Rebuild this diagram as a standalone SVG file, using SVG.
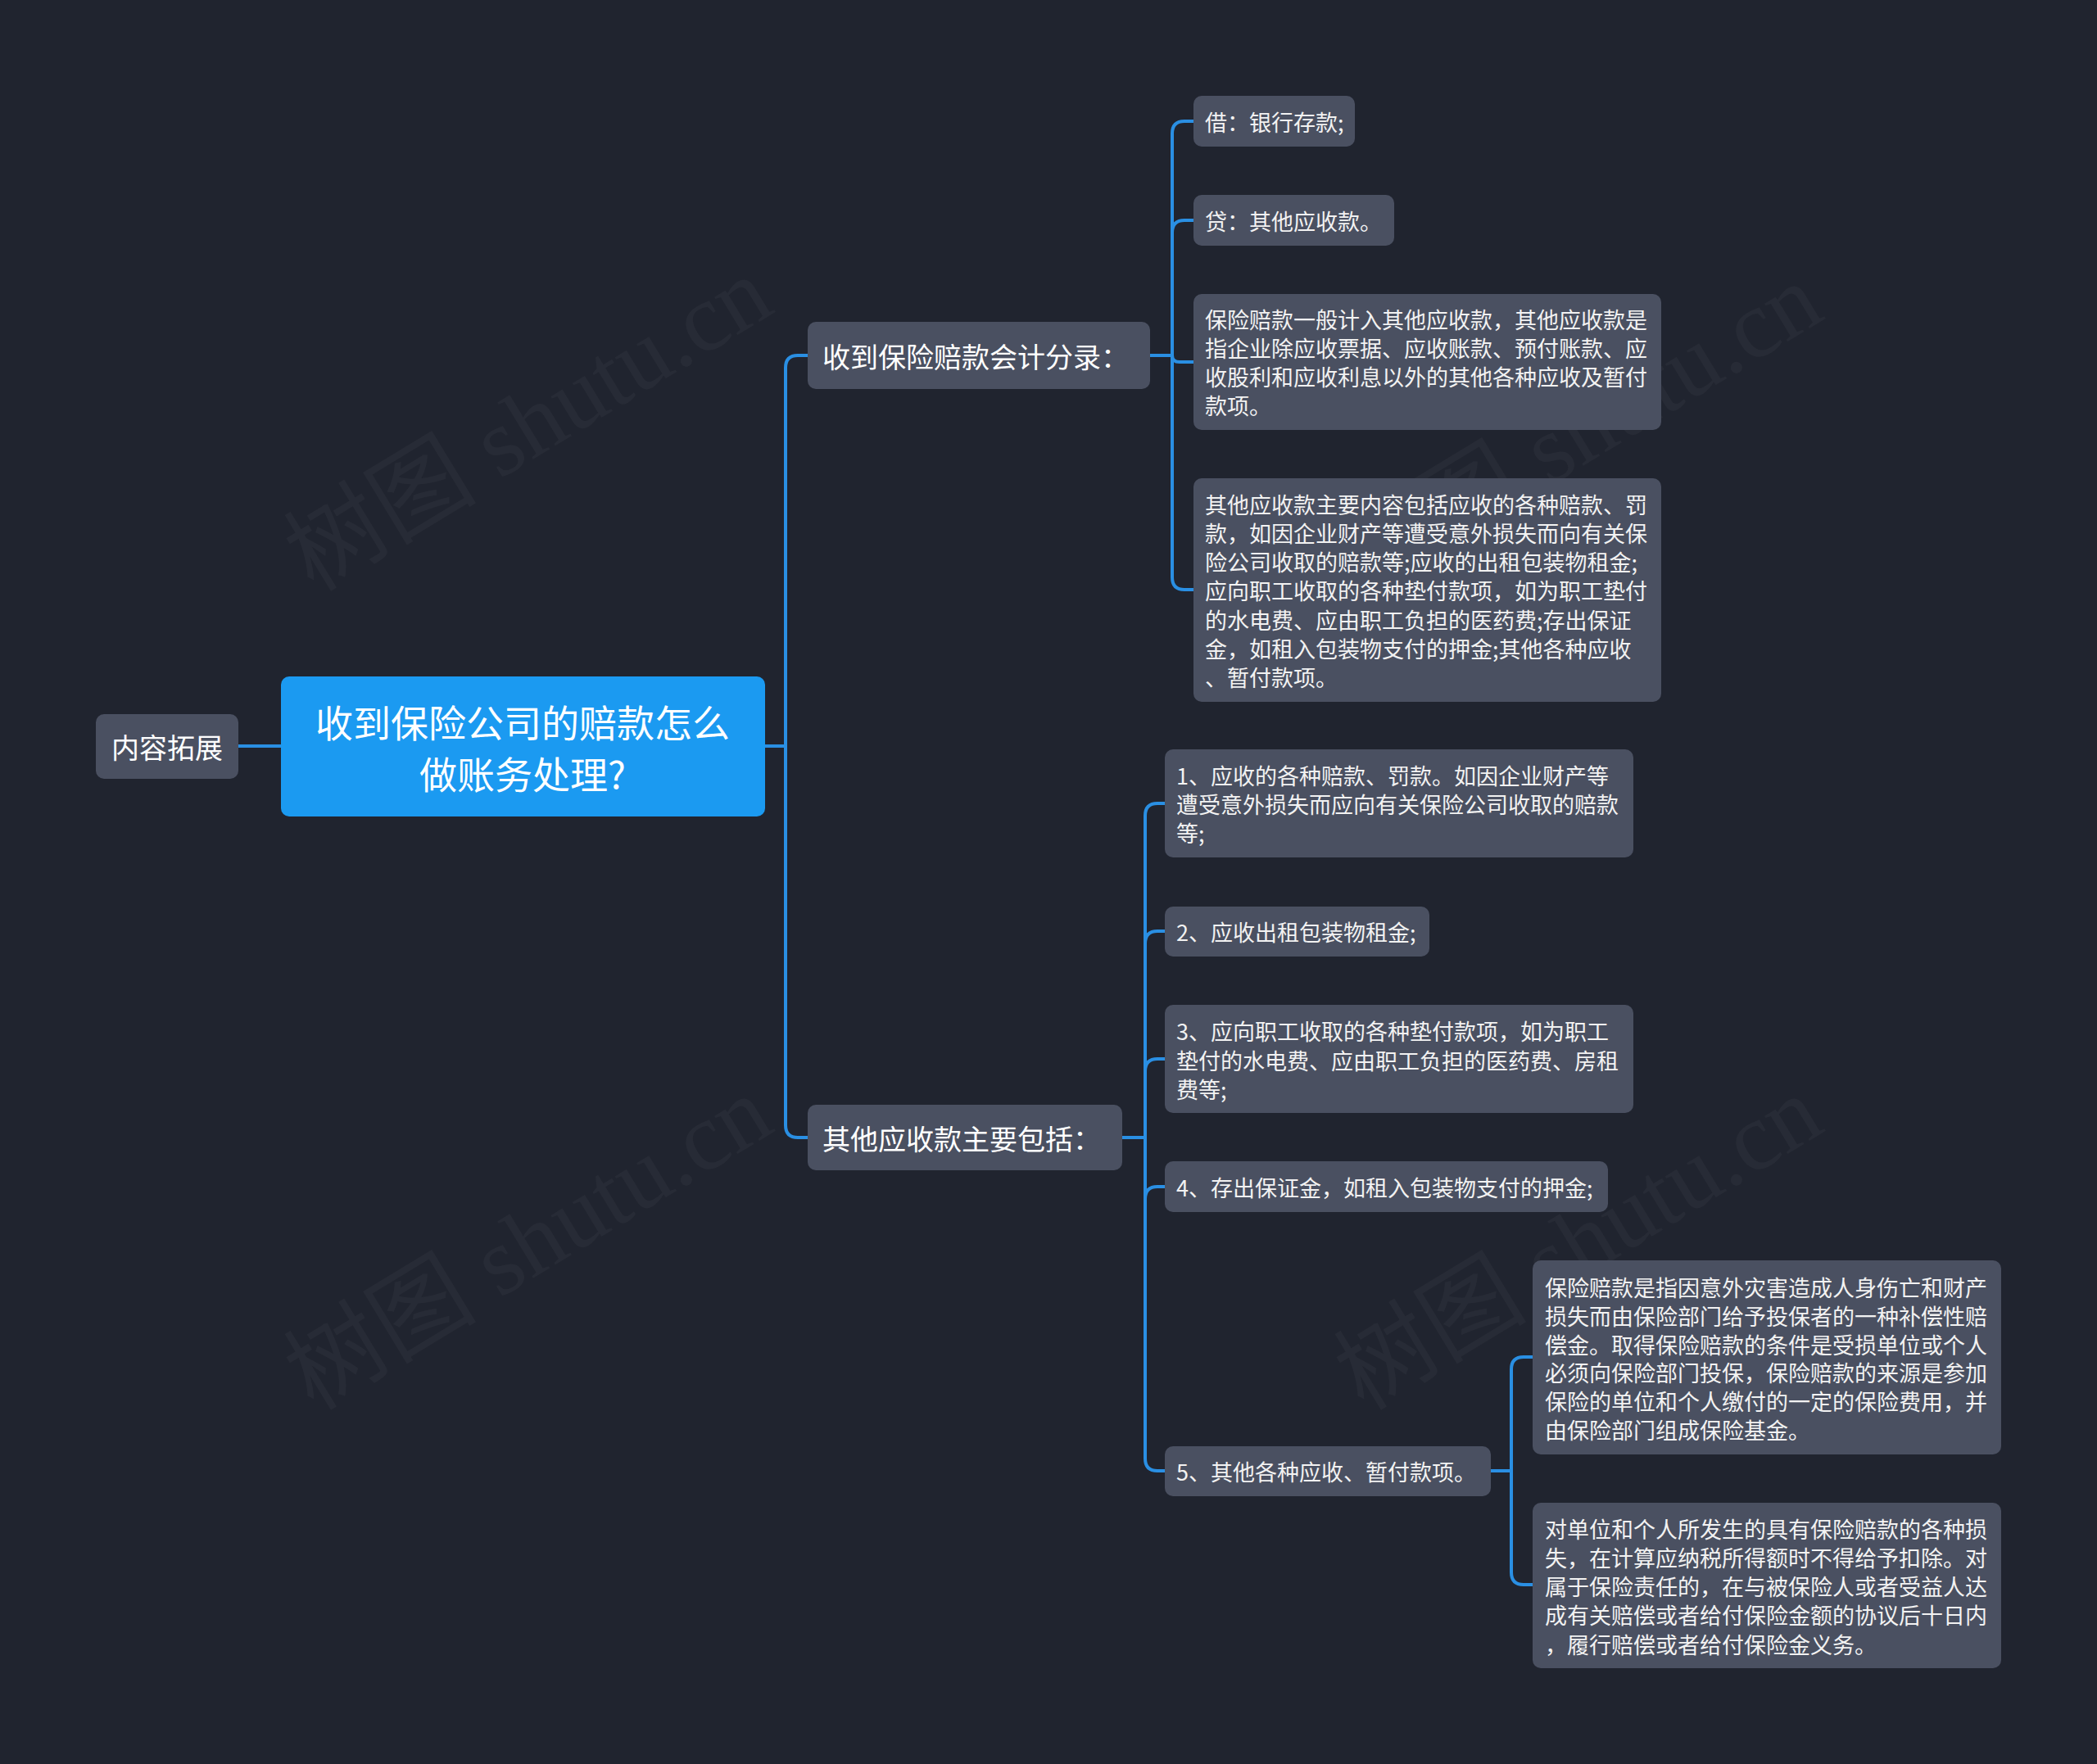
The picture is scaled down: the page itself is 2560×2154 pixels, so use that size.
<svg xmlns="http://www.w3.org/2000/svg" width="2560" height="2154" viewBox="0 0 2560 2154">
<style>
.bg{fill:#20242f}
.wm{font-family:"Liberation Serif","Noto Sans CJK SC",serif;font-size:118px;fill:#ffffff;fill-opacity:0.035}
.node{fill:#4a5061}
.root{fill:#1b9af1}
.t{font-family:"Noto Sans CJK SC","Noto Sans",sans-serif;fill:#ffffff;dominant-baseline:central}
.t34{font-size:34px}
.t46{font-size:46px}
.t27{font-size:27px;fill:#f2f2f2}
.edge{fill:none;stroke:#2a8fe3;stroke-width:4;stroke-linecap:round}
</style>
<rect class="bg" x="0" y="0" width="2560" height="2154"/>
<g id="watermarks">
<text class="wm" x="645" y="518" text-anchor="middle" dominant-baseline="central" transform="rotate(-31.3 645 518)">树图 shutu.cn</text>
<text class="wm" x="1927" y="526" text-anchor="middle" dominant-baseline="central" transform="rotate(-31.3 1927 526)">树图 shutu.cn</text>
<text class="wm" x="645" y="1518" text-anchor="middle" dominant-baseline="central" transform="rotate(-31.3 645 1518)">树图 shutu.cn</text>
<text class="wm" x="1927" y="1518" text-anchor="middle" dominant-baseline="central" transform="rotate(-31.3 1927 1518)">树图 shutu.cn</text>
</g>
<g id="connectors">
<path class="edge" d="M291 911 H343"/>
<path class="edge" d="M934 911 H959"/>
<path class="edge" d="M959 911 V449 Q959 434 974 434 H986"/>
<path class="edge" d="M959 911 V1374 Q959 1389 974 1389 H986"/>
<path class="edge" d="M1404 434 H1431 V163 Q1431 148 1446 148 H1457"/>
<path class="edge" d="M1431 434 V284 Q1431 269 1446 269 H1457"/>
<path class="edge" d="M1431 434 Q1431 442 1440 442 H1457"/>
<path class="edge" d="M1431 434 V705 Q1431 720 1446 720 H1457"/>
<path class="edge" d="M1370 1389 H1398 V996 Q1398 981 1413 981 H1422"/>
<path class="edge" d="M1398 1389 V1152 Q1398 1137 1413 1137 H1422"/>
<path class="edge" d="M1398 1389 V1308 Q1398 1293 1413 1293 H1422"/>
<path class="edge" d="M1398 1389 V1464 Q1398 1449 1413 1449 H1422"/>
<path class="edge" d="M1398 1389 V1781 Q1398 1796 1413 1796 H1422"/>
<path class="edge" d="M1820 1796 H1845 V1672 Q1845 1657 1860 1657 H1871"/>
<path class="edge" d="M1845 1796 V1920 Q1845 1935 1860 1935 H1871"/>
</g>
<g id="n-ext">
<rect class="node" x="117" y="872" width="174" height="79" rx="10"/>
<text class="t t34" x="204" y="911" text-anchor="middle">内容拓展</text>
</g>
<g id="n-root">
<rect class="root" x="343" y="826" width="591" height="171" rx="10"/>
<text class="t t46" x="638" y="880" text-anchor="middle">收到保险公司的赔款怎么</text>
<text class="t t46" x="638" y="943" text-anchor="middle">做账务处理?</text>
</g>
<g id="n-c1">
<rect class="node" x="986" y="393" width="418" height="82" rx="10"/>
<text class="t t34" x="1004" y="434">收到保险赔款会计分录：</text>
</g>
<g id="n-c2">
<rect class="node" x="986" y="1349" width="384" height="80" rx="10"/>
<text class="t t34" x="1004" y="1389">其他应收款主要包括：</text>
</g>
<g id="n-l1">
<rect class="node" x="1457" y="117" width="197" height="62" rx="10"/>
<text class="t t27" x="1471" y="148">借：银行存款;</text>
</g>
<g id="n-l2">
<rect class="node" x="1457" y="238" width="245" height="62" rx="10"/>
<text class="t t27" x="1471" y="269">贷：其他应收款。</text>
</g>
<g id="n-l3">
<rect class="node" x="1457" y="359" width="571" height="166" rx="10"/>
<text class="t t27" x="1471" y="389">保险赔款一般计入其他应收款，其他应收款是</text>
<text class="t t27" x="1471" y="424.3">指企业除应收票据、应收账款、预付账款、应</text>
<text class="t t27" x="1471" y="459.6">收股利和应收利息以外的其他各种应收及暂付</text>
<text class="t t27" x="1471" y="494.9">款项。</text>
</g>
<g id="n-l4">
<rect class="node" x="1457" y="584" width="571" height="273" rx="10"/>
<text class="t t27" x="1471" y="615">其他应收款主要内容包括应收的各种赔款、罚</text>
<text class="t t27" x="1471" y="650.3">款，如因企业财产等遭受意外损失而向有关保</text>
<text class="t t27" x="1471" y="685.6">险公司收取的赔款等;应收的出租包装物租金;</text>
<text class="t t27" x="1471" y="720.9">应向职工收取的各种垫付款项，如为职工垫付</text>
<text class="t t27" x="1471" y="756.2">的水电费、应由职工负担的医药费;存出保证</text>
<text class="t t27" x="1471" y="791.5">金，如租入包装物支付的押金;其他各种应收</text>
<text class="t t27" x="1471" y="826.8">、暂付款项。</text>
</g>
<g id="n-m1">
<rect class="node" x="1422" y="915" width="572" height="132" rx="10"/>
<text class="t t27" x="1436" y="946">1、应收的各种赔款、罚款。如因企业财产等</text>
<text class="t t27" x="1436" y="981.3">遭受意外损失而应向有关保险公司收取的赔款</text>
<text class="t t27" x="1436" y="1016.6">等;</text>
</g>
<g id="n-m2">
<rect class="node" x="1422" y="1107" width="323" height="61" rx="10"/>
<text class="t t27" x="1436" y="1137.5">2、应收出租包装物租金;</text>
</g>
<g id="n-m3">
<rect class="node" x="1422" y="1227" width="572" height="132" rx="10"/>
<text class="t t27" x="1436" y="1258.7">3、应向职工收取的各种垫付款项，如为职工</text>
<text class="t t27" x="1436" y="1294">垫付的水电费、应由职工负担的医药费、房租</text>
<text class="t t27" x="1436" y="1329.3">费等;</text>
</g>
<g id="n-m4">
<rect class="node" x="1422" y="1418" width="541" height="62" rx="10"/>
<text class="t t27" x="1436" y="1449">4、存出保证金，如租入包装物支付的押金;</text>
</g>
<g id="n-m5">
<rect class="node" x="1422" y="1766" width="398" height="61" rx="10"/>
<text class="t t27" x="1436" y="1796.5">5、其他各种应收、暂付款项。</text>
</g>
<g id="n-s1">
<rect class="node" x="1871" y="1539" width="572" height="237" rx="10"/>
<text class="t t27" x="1886" y="1571.5">保险赔款是指因意外灾害造成人身伤亡和财产</text>
<text class="t t27" x="1886" y="1606.3">损失而由保险部门给予投保者的一种补偿性赔</text>
<text class="t t27" x="1886" y="1641.1">偿金。取得保险赔款的条件是受损单位或个人</text>
<text class="t t27" x="1886" y="1675.9">必须向保险部门投保，保险赔款的来源是参加</text>
<text class="t t27" x="1886" y="1710.7">保险的单位和个人缴付的一定的保险费用，并</text>
<text class="t t27" x="1886" y="1745.5">由保险部门组成保险基金。</text>
</g>
<g id="n-s2">
<rect class="node" x="1871" y="1835" width="572" height="202" rx="10"/>
<text class="t t27" x="1886" y="1866">对单位和个人所发生的具有保险赔款的各种损</text>
<text class="t t27" x="1886" y="1901.3">失，在计算应纳税所得额时不得给予扣除。对</text>
<text class="t t27" x="1886" y="1936.6">属于保险责任的，在与被保险人或者受益人达</text>
<text class="t t27" x="1886" y="1971.9">成有关赔偿或者给付保险金额的协议后十日内</text>
<text class="t t27" x="1886" y="2007.2">，履行赔偿或者给付保险金义务。</text>
</g>
</svg>
